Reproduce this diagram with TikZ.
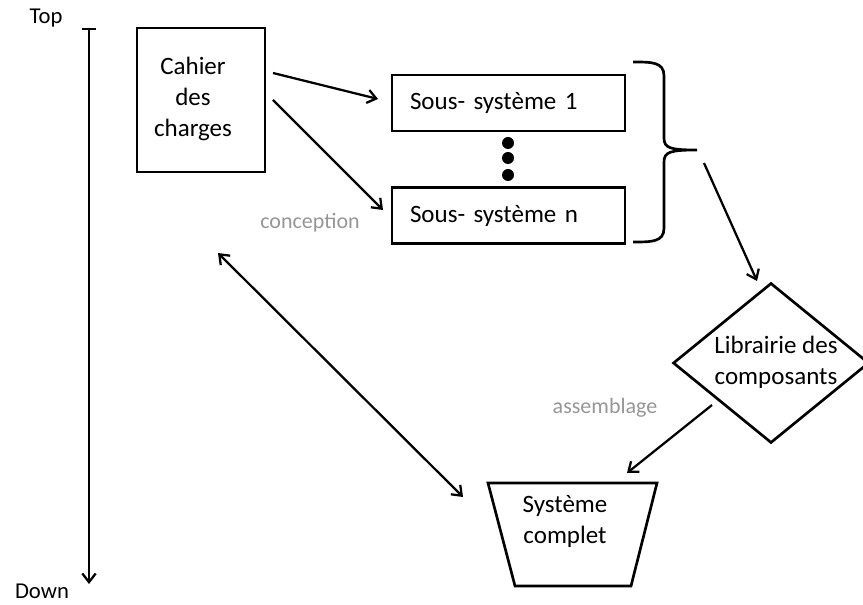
\documentclass[tikz,border=0pt]{standalone}
\usepackage{fontspec}
\setmainfont{Carlito}
\usetikzlibrary{arrows.meta,shapes.geometric}
\definecolor{lbl}{RGB}{150,150,150}
\begin{document}
\begin{tikzpicture}[x=0.75pt,y=-0.75pt,
  box/.style={draw, line width=2pt, inner sep=0pt},
  tip/.style={Straight Barb[length=6.5pt,width=10pt]},
  conn/.style={line width=1.7pt, -{Straight Barb[length=6.5pt,width=10pt]}},
  lab/.style={font=\fontsize{18.75}{23.25}\selectfont, align=center, inner sep=0pt},
  side/.style={font=\fontsize{17}{20}\selectfont, inner sep=0pt},
  note/.style={font=\fontsize{16.5}{20}\selectfont, text=lbl, inner sep=0pt},
  dot/.style={circle, fill=black, minimum size=9pt, inner sep=0pt}]
\useasboundingbox (0,0) rectangle (863,605);
% axis
\node[side] (top) at (46,18) {Top};
\node[side] (down) at (42,591) {Down};
\coordinate (axtop) at (89,28);
\coordinate (axbot) at (89,584);
\draw[line width=1.7pt, {Bar[width=11pt]}-{Straight Barb[length=6.5pt,width=10pt]}] (axtop) -- (axbot);
% cahier des charges
\node[box, minimum width=96pt, minimum height=108pt] (cahier) at (201,100) {};
\node[lab] (cahiert) at (193,99) {Cahier\\des\\charges};
% sous-systemes
\node[box, minimum height=42pt, text width=147.75pt, inner xsep=13.5pt, align=left,
  font=\fontsize{18.75}{23.25}\selectfont] (s1) at (508.5,103) {Sous- système 1};
\node[box, minimum height=42pt, text width=147.75pt, inner xsep=13.5pt, align=left,
  font=\fontsize{18.75}{23.25}\selectfont] (sn) at (508.5,215.5) {Sous- système n};
\node[dot] (d1) at (508,143) {};
\node[dot] (d2) at (508,158) {};
\node[dot] (d3) at (508,175) {};
% arrows from cahier
\coordinate (a1s) at (273,73);
\coordinate (a1e) at (378,99);
\coordinate (a2s) at (273,100);
\coordinate (a2e) at (383,210);
\draw[conn] (a1s) -- (a1e);
\draw[conn] (a2s) -- (a2e);
\node[note] (conc) at (310,223) {conception};
% brace
\coordinate (btip) at (697,150);
\draw[line width=2pt] (633,62) .. controls (652,62) and (664,62) .. (664,76) -- (664,138)
  .. controls (664,148) and (670,150) .. (btip)
  .. controls (670,150) and (664,152) .. (664,162) -- (664,228)
  .. controls (664,242) and (652,242) .. (633,242);
% arrow to library
\coordinate (a3s) at (704,163);
\coordinate (a3e) at (757,281);
\draw[conn] (a3s) -- (a3e);
\node[draw, diamond, line width=2pt, minimum width=147pt, minimum height=120pt, inner sep=0pt] (lib) at (771,363) {};
\node[lab] (libt) at (776,362) {Librairie des\\composants};
\node[note] (ass) at (605,408) {assemblage};
% systeme complet
\draw[box] (488,483) coordinate (tl) -- (657,483) coordinate (tr) -- (631,586) coordinate (br) -- (515,586) coordinate (bl) -- cycle;
\node[lab] (sys) at (565,521) {Système\\complet};
\coordinate (a4s) at (712,405);
\coordinate (a4e) at (627,473);
\draw[conn] (a4s) -- (a4e);
% double arrow
\coordinate (dds) at (218,253);
\coordinate (dde) at (463,497);
\draw[line width=1.7pt, {Straight Barb[length=6.5pt,width=10pt]}-{Straight Barb[length=6.5pt,width=10pt]}] (dds) -- (dde);
\end{tikzpicture}
\end{document}
